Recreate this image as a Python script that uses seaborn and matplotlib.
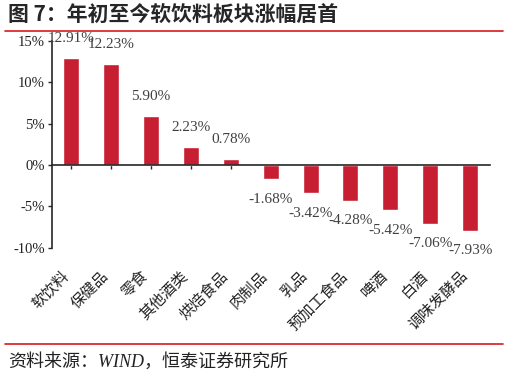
import matplotlib
matplotlib.use("Agg")
import matplotlib.pyplot as plt
import matplotlib.transforms as mtransforms
from matplotlib.lines import Line2D
import seaborn as sns
import pandas as pd

# data
categories = ["软饮料", "保健品", "零食", "其他酒类", "烘焙食品", "肉制品",
              "乳品", "预加工食品", "啤酒", "白酒", "调味发酵品"]
changes = [12.91, 12.23, 5.90, 2.23, 0.78, -1.68, -3.42, -4.28, -5.42, -7.06, -7.93]
y_ticks = [-10, -5, 0, 5, 10, 15]

title = "图 7：年初至今软饮料板块涨幅居首"
source = "资料来源：WIND，恒泰证券研究所"

bar_color = "#C81E32"
line_color = "#D7191C"
serif = ["Liberation Serif", "Noto Sans CJK SC"]
cjk = ["Noto Sans CJK SC", "DejaVu Sans"]

sns.set_style("ticks")
plt.rcParams["font.family"] = serif
plt.rcParams["axes.unicode_minus"] = False

df = pd.DataFrame({"cat": categories, "chg": changes})

fig = plt.figure(figsize=(5.09, 3.75), dpi=100)
ax = fig.add_axes([0.102, 0.339, 0.861, 0.552])

sns.barplot(data=df, x="cat", y="chg", color=bar_color, saturation=1,
            width=0.4, ax=ax)

ax.set_ylim(-10, 15)
ax.set_xlim(-0.48, len(categories) - 0.5)
ax.set_yticks(y_ticks)
ax.set_yticklabels([f"{v}%" for v in y_ticks], fontsize=10.5, color="#222222")
ax.set_xlabel("")
ax.set_ylabel("")
ax.set_xticks(range(len(categories)))
ax.set_xticklabels([""] * len(categories))

for s in ["top", "right"]:
    ax.spines[s].set_visible(False)
ax.spines["bottom"].set_position(("data", 0))
ax.spines["left"].set_linewidth(1.2)
ax.spines["bottom"].set_linewidth(1.2)
ax.tick_params(axis="x", direction="out", length=3, width=1)
ax.tick_params(axis="y", direction="out", length=3, width=1, pad=2)

# value labels
for i, v in enumerate(changes):
    off = 14 if v >= 0 else -14.5
    ax.annotate(f"{v:.2f}%", xy=(i, v), xytext=(0, off), textcoords="offset points",
                ha="center", va="center", fontsize=11, color="#404040")

# category labels under the axes, rotated
trans = mtransforms.blended_transform_factory(ax.transData, ax.transAxes)
for i, c in enumerate(categories):
    ax.text(i + 0.02, -0.095, c, transform=trans, rotation=45, ha="right", va="top",
            fontsize=11, family=cjk, color="#222222")

fig.text(0.016, 0.958, title, fontsize=15, fontweight="bold", family=cjk,
         ha="left", va="center")
fig.add_artist(Line2D([0.01, 0.988], [0.917, 0.917], color=line_color, lw=1.2,
                      transform=fig.transFigure))
fig.add_artist(Line2D([0.01, 0.988], [0.083, 0.083], color=line_color, lw=1.2,
                      transform=fig.transFigure))
fig.text(0.016, 0.035, source, fontsize=13, style="italic", family=serif,
         ha="left", va="center", color="#222222")

fig.savefig("out.png", dpi=100)
